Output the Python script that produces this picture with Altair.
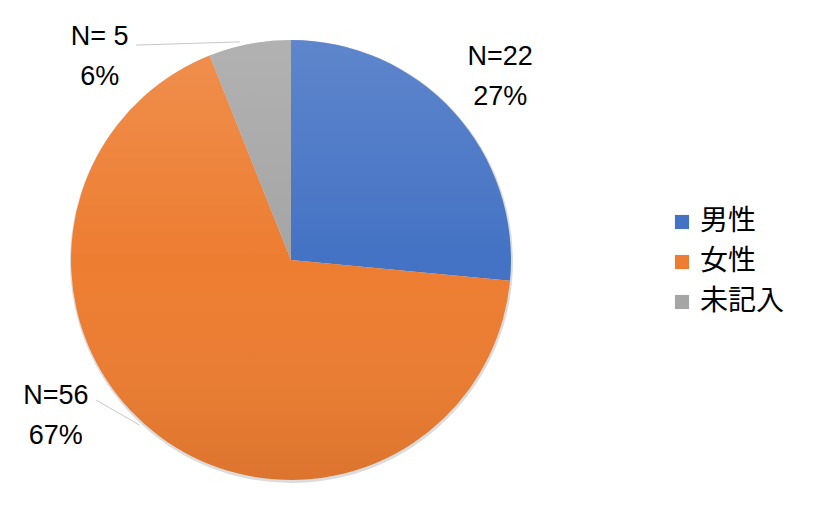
import altair as alt
import pandas as pd
import numpy as np

categories = ["男性", "女性", "未記入"]
counts = [22, 56, 5]
percents = ["27%", "67%", "6%"]
label_texts = ["N=22", "N=56", "N= 5"]
colors = ["#4472C4", "#ED7D31", "#A5A5A5"]

# layout constants (pixels)
W, H = 803, 496
CX, CY, R = 283, 252, 220
label_angle = [48.8, 236.5, 316.7]
label_radius = [278, 282, 279]
leader_from = [(None, None), (234.3, 240), (324.2, 265)]
leader_to = [(None, None), (222.5, 224), (346.8, 224)]

df = pd.DataFrame({"cat": categories, "n": counts, "order": [0, 1, 2]})

def polar(a, r):
    a = np.deg2rad(a)
    return CX + r * np.sin(a), CY - r * np.cos(a)

lab = []
for t, p, a, r in zip(label_texts, percents, label_angle, label_radius):
    x, y = polar(a, r)
    lab.append({"txt": t + "\n" + p, "lx": x, "ly": y})
lab = pd.DataFrame(lab)

lines = []
for f, t in zip(leader_from, leader_to):
    if f[0] is None:
        continue
    x1, y1 = polar(*f)
    x2, y2 = polar(*t)
    lines.append({"x1": x1, "y1": y1, "x2": x2, "y2": y2})
lines = pd.DataFrame(lines)

shadow = alt.Chart(pd.DataFrame({"v": [1]})).mark_arc(
    outerRadius=R + 1.5, theta=0, theta2=6.2832, fill="#9a9a9a", opacity=0.35
).encode(x=alt.value(CX + 0.5), y=alt.value(CY + 1.5))

pie = alt.Chart(df).mark_arc(outerRadius=R).encode(
    theta=alt.Theta("n:Q", stack=True),
    order=alt.Order("order:Q"),
    color=alt.Color(
        "cat:N",
        scale=alt.Scale(domain=categories, range=colors),
        sort=categories,
        legend=alt.Legend(
            title=None,
            orient="none",
            legendX=660,
            legendY=200,
            symbolType="square",
            symbolSize=200,
            symbolStrokeWidth=0,
            labelFontSize=28,
            labelFont="Noto Sans CJK JP",
            labelColor="#000000",
            labelOffset=4,
            rowPadding=12,
        ),
    ),
    x=alt.value(CX),
    y=alt.value(CY),
)

shade = alt.Chart(pd.DataFrame({"v": [1]})).mark_arc(
    outerRadius=R,
    theta=0,
    theta2=6.2832,
    fill=alt.Gradient(
        gradient="linear",
        x1=0, y1=0, x2=0, y2=1,
        stops=[
            alt.GradientStop(offset=0, color="rgba(255,255,255,0.14)"),
            alt.GradientStop(offset=0.5, color="rgba(255,255,255,0)"),
            alt.GradientStop(offset=1, color="rgba(0,0,0,0.07)"),
        ],
    ),
).encode(x=alt.value(CX), y=alt.value(CY))

leaders = alt.Chart(lines).mark_rule(color="#c8c8c8", strokeWidth=1).encode(
    x=alt.X("x1:Q", scale=None),
    y=alt.Y("y1:Q", scale=None),
    x2="x2:Q",
    y2="y2:Q",
)

labels = alt.Chart(lab).mark_text(
    lineBreak="\n",
    lineHeight=40,
    fontSize=27,
    font="Liberation Sans Narrow, Liberation Sans, Arial",
    color="#000000",
    align="center",
    baseline="middle",
    dy=-20,
).encode(
    x=alt.X("lx:Q", scale=None),
    y=alt.Y("ly:Q", scale=None),
    text="txt:N",
)

chart = alt.layer(shadow, pie, shade, leaders, labels).properties(
    width=W, height=H, padding=0, autosize="none", background="white"
).configure_view(strokeWidth=0)

chart.save("out.html", embed_options={"renderer": "svg", "actions": False})
